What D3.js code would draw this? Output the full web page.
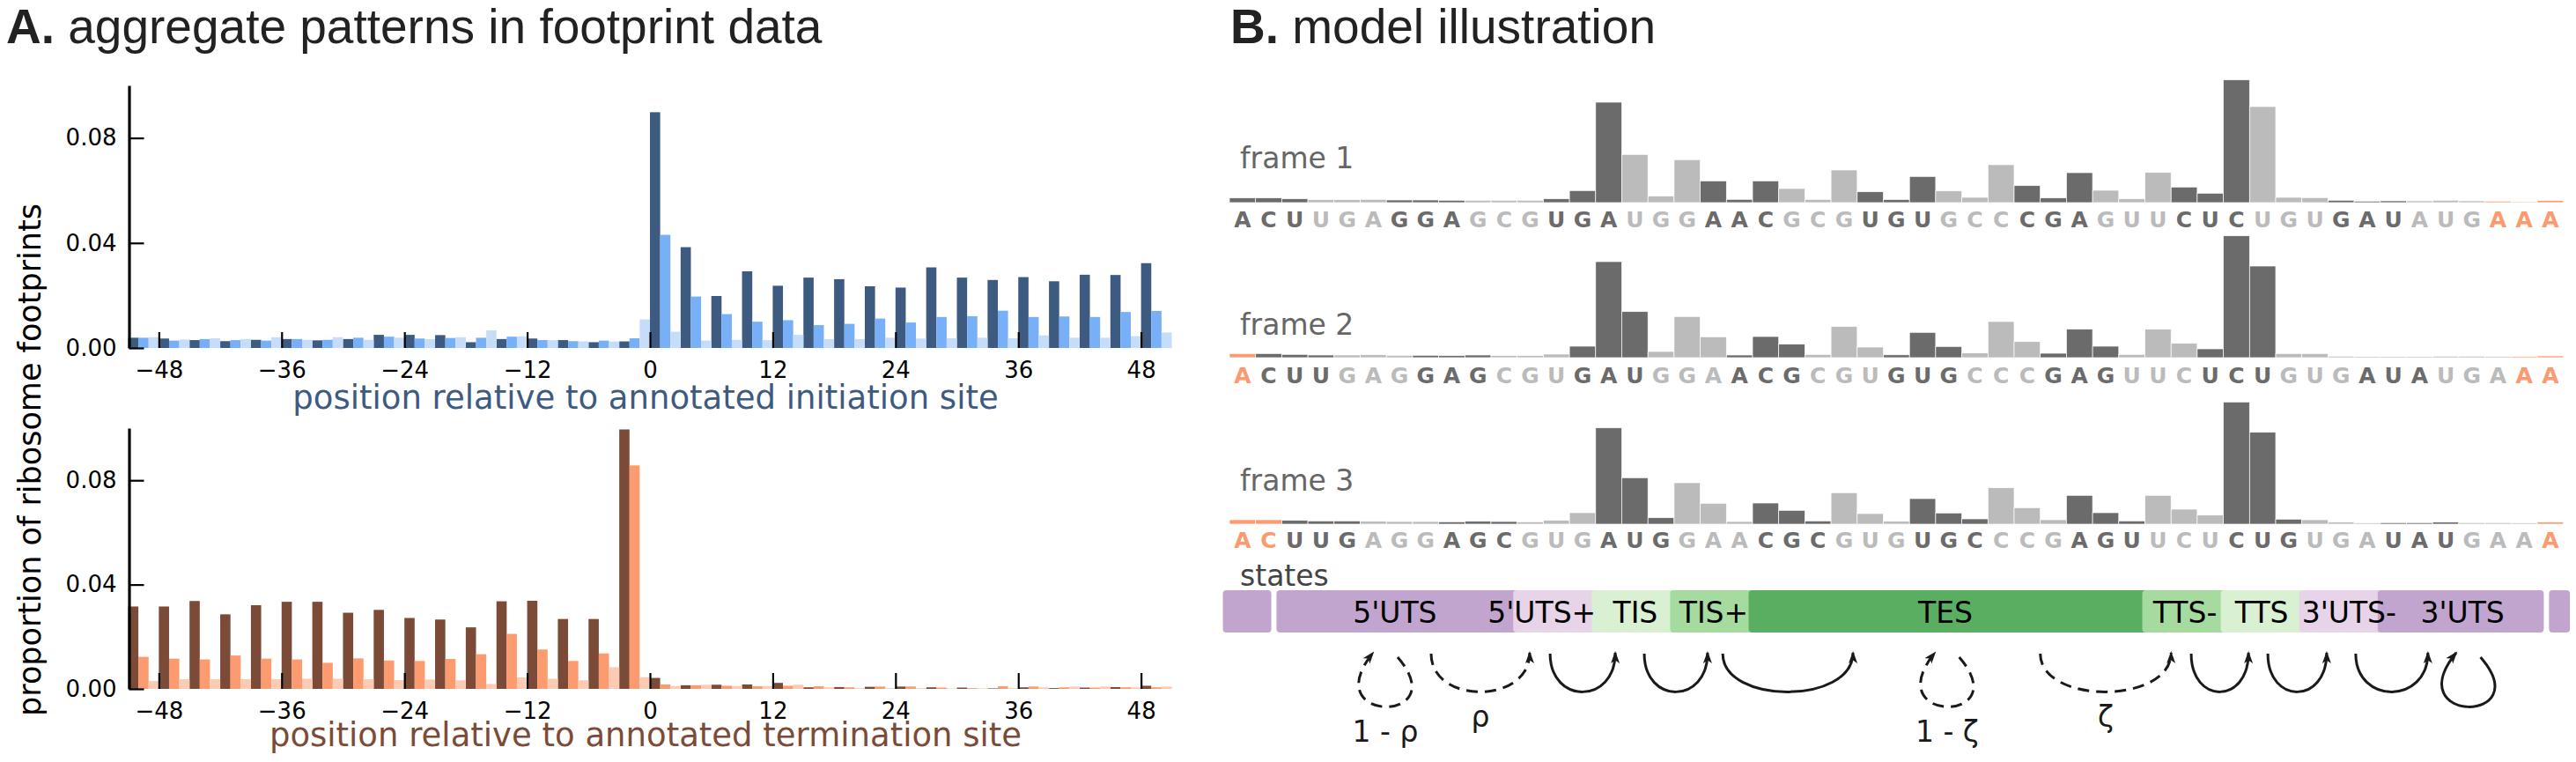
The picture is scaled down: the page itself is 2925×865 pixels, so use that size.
<!DOCTYPE html>
<html><head><meta charset="utf-8">
<script src="https://cdn.jsdelivr.net/npm/d3@7"></script>
<style>body{margin:0;background:#fff} svg{display:block}</style>
</head><body>
<svg id="chart" width="2925" height="865"></svg>
<script>
// ---------------- Panel A data ----------------
const firstPosition = -51;
const lastPosition = 51;
const tickPositions = [-48, -36, -24, -12, 0, 12, 24, 36, 48];
const yTickValues = [0, 0.04, 0.08];
// initiation site, frame 0 (positions -51,-48,...,48), frame 1 (-50..49), frame 2 (-49..50)
const initFrame0 = [0.0039,0.0036,0.0030,0.0026,0.0031,0.0034,0.0029,0.0034,0.0050,0.0050,0.0049,0.0022,0.0034,0.0036,0.0030,0.0022,0.0025,
  0.0898,0.0384,0.0198,0.0292,0.0237,0.0268,0.0262,0.0235,0.0230,0.0307,0.0268,0.0259,0.0270,0.0254,0.0279,0.0278,0.0323];
const initFrame1 = [0.0039,0.0028,0.0034,0.0030,0.0028,0.0034,0.0031,0.0039,0.0043,0.0036,0.0038,0.0039,0.0043,0.0030,0.0026,0.0028,0.0037,
  0.0431,0.0196,0.0129,0.0100,0.0106,0.0087,0.0092,0.0112,0.0097,0.0118,0.0121,0.0142,0.0118,0.0120,0.0118,0.0137,0.0141];
const initFrame2 = [0.0041,0.0032,0.0037,0.0034,0.0041,0.0031,0.0041,0.0031,0.0039,0.0034,0.0041,0.0067,0.0044,0.0030,0.0025,0.0025,0.0109,
  0.0062,0.0028,0.0031,0.0030,0.0050,0.0034,0.0034,0.0039,0.0036,0.0037,0.0039,0.0037,0.0048,0.0039,0.0039,0.0045,0.0059];
// termination site
const termFrame0 = [0.0316,0.0316,0.0337,0.0286,0.0321,0.0334,0.0334,0.0292,0.0303,0.0272,0.0266,0.0236,0.0336,0.0338,0.0268,0.0268,0.0995,
  0.0042,0.0014,0.0016,0.0017,0.0023,0.0006,0.0007,0.0008,0.0009,0.0006,0.0005,0.0002,0.0006,0.0003,0.0005,0.0007,0.0012];
const termFrame1 = [0.0123,0.0116,0.0113,0.0128,0.0116,0.0113,0.0100,0.0117,0.0109,0.0107,0.0115,0.0133,0.0211,0.0151,0.0107,0.0136,0.0857,
  0.0017,0.0014,0.0012,0.0010,0.0012,0.0010,0.0006,0.0009,0.0009,0.0005,0.0003,0.0010,0.0009,0.0006,0.0005,0.0006,0.0006];
const termFrame2 = [0.0030,0.0037,0.0037,0.0037,0.0037,0.0039,0.0039,0.0037,0.0034,0.0036,0.0033,0.0019,0.0044,0.0039,0.0033,0.0083,0.0045,
  0.0011,0.0016,0.0011,0.0011,0.0016,0.0006,0.0003,0.0003,0.0003,0.0002,0.0002,0.0003,0.0006,0.0009,0.0009,0.0006,0.0009];
const initColors = ["#3d5a80", "#78b0f8", "#c6ddf9"];
const termColors = ["#7b4b37", "#fc9b70", "#fdcbb4"];

// ---------------- Panel B data ----------------
const sequence = "ACUUGAGGAGCGUGAUGGAACGCGUGUGCCCGAGUUCUCUGUGAUAUGAAA";
const frameNames = ["frame 1", "frame 2", "frame 3"];
const frameOffsets = [0, 1, 2];
const codonsPerFrame = 16;
const frame1Reads = [5.3,5.3,4.3,3.3,3.3,3.7,3,3,2.7,2.7,2.7,2.7,4.3,13.7,114,54.7,7.3,48.7,24.7,3.7,24.7,16,3.7,37,12.3,3.5,29.7,13.3,6,43,19.3,5.3,34,14,4.3,34.3,17.7,10.7,139.3,109,6,5.7,2.7,1.7,2,2,2.7,2,1.7,1,2.3];
const frame2Reads = [4.7,4.7,3.7,3,3,3.3,2.7,2.7,2.3,3,2.3,2.3,4,13,109,52.3,7,46.7,23.7,3,24,15.3,3.7,35.3,12,3.2,28.7,12.7,5.3,41,18.3,5,32.3,13,3.7,32.3,16.3,10,138.3,104,4.7,4.7,1.7,1,1,1,1.7,1.7,1.3,1.3,2];
const frame3Reads = [5,5,4.3,3.7,3.7,3.3,3,3,2.7,3.3,3,2.7,4.3,13,109.3,52.7,7.3,47,23.7,3,24,15.7,3.7,35.7,12,3.3,29,12.7,6,41.3,18.7,5,32.7,13,3.7,32.7,17,10.3,138.7,104.3,5.7,5,2.3,1.3,1.7,1.7,2.3,1.7,1.7,1.3,2.3];
const stateNames  = ["", "5'UTS", "5'UTS+", "TIS", "TIS+", "TES", "TTS-", "TTS", "3'UTS-", "3'UTS", ""];
const stateStarts = [-0.25, 1.8, 10.85, 13.85, 16.85, 19.85, 34.9, 37.9, 40.9, 43.9, 50.45];
const stateEnds   = [1.6, 10.85, 13.85, 16.85, 19.85, 34.9, 37.9, 40.9, 43.9, 50.25, 51.25];
const stateColors = ["#c2a5cf","#c2a5cf","#e7d4e8","#d9f0d3","#a6dba0","#5aae61","#a6dba0","#d9f0d3","#e7d4e8","#c2a5cf","#c2a5cf"];
const arcFrom   = [7.71, 12.26, 15.86, 18.86, 31.0, 36.77, 39.7, 43.06];
const arcTo     = [11.48, 14.75, 18.28, 23.84, 36.0, 38.96, 41.95, 45.82];
const arcDashed = [true, false, false, false, true, false, false, false];
const arcLabels = ["ρ", "", "", "", "ζ", "", "", ""];
const loopLeft   = [5.49, 26.97, 46.9];
const loopRight  = [6.43, 27.9, 47.83];
const loopDashed = [true, true, false];
const loopLabels = ["1 - ρ", "1 - ζ", ""];

// ---------------- layout constants ----------------
const stateLabelShift = [0, 0, -12, 5, 5, 0, 4, 2, 12, 2, 0];

// ---------------- drawing ----------------
const svg = d3.select("#chart");
const DV = "'DejaVu Sans', sans-serif";
const HV = "'Liberation Sans', Arial, sans-serif";

svg.append("defs").append("marker")
  .attr("id", "ah").attr("viewBox", "0 0 14 10").attr("refX", 12).attr("refY", 5)
  .attr("markerWidth", 14).attr("markerHeight", 10).attr("markerUnits", "userSpaceOnUse")
  .attr("orient", "auto")
  .append("path").attr("d", "M0,0 L14,5 L0,10 L3.5,5 Z").attr("fill", "#1a1a1a");

// titles
function title(x, letter, rest) {
  const t = svg.append("text").attr("x", x).attr("y", 49)
    .attr("font-family", HV).attr("font-size", 55).attr("fill", "#222");
  t.append("tspan").attr("font-weight", "bold").text(letter);
  t.append("tspan").text(rest);
}
title(7, "A.", " aggregate patterns in footprint data");
title(1397, "B.", " model illustration");

// Panel A
const xA = d3.scaleLinear().domain([firstPosition, lastPosition]).range([145.5, 1330.5]);
const panelsA = [
  {frames: [initFrame0, initFrame1, initFrame2], colors: initColors, base: 395, top: 97,
   label: "position relative to annotated initiation site", labelY: 464},
  {frames: [termFrame0, termFrame1, termFrame2], colors: termColors, base: 782, top: 486,
   label: "position relative to annotated termination site", labelY: 847}
];
panelsA.forEach(P => {
  const y = d3.scaleLinear().domain([0, 0.1]).range([P.base, P.top]);
  const g = svg.append("g");
  P.frames.forEach((vals, f) => {
    const data = vals.map((v, k) => ({p: firstPosition + f + 3 * k, v}));
    g.selectAll(null).data(data).enter().append("rect")
      .attr("x", d => xA(d.p)).attr("width", d => xA(d.p + 1) - xA(d.p))
      .attr("y", d => y(d.v)).attr("height", d => y(0) - y(d.v))
      .attr("fill", P.colors[f]);
  });
  const xAxis = d3.axisBottom(xA).tickValues(tickPositions).tickSize(-18).tickPadding(16)
    .tickFormat(d3.format("d"));
  const gx = svg.append("g").attr("transform", `translate(0,${P.base})`).call(xAxis);
  gx.select(".domain").remove();
  gx.selectAll(".tick line").attr("stroke", "#000").attr("stroke-width", 2.2);
  gx.selectAll("text").attr("font-family", DV).attr("font-size", 26).attr("fill", "#000");
  const yAxis = d3.axisLeft(y).tickValues(yTickValues).tickSize(-17).tickSizeOuter(0).tickPadding(14)
    .tickFormat(d3.format(".2f"));
  const gy = svg.append("g").attr("transform", `translate(${xA(firstPosition) + 1},0)`).call(yAxis);
  gy.select(".domain").attr("stroke", "#000").attr("stroke-width", 3.2);
  gy.selectAll(".tick line").attr("stroke", "#000").attr("stroke-width", 2.2);
  gy.selectAll("text").attr("font-family", DV).attr("font-size", 26).attr("fill", "#000");
  svg.append("text").attr("x", 733).attr("y", P.labelY).attr("text-anchor", "middle")
    .attr("font-family", DV).attr("font-size", 37).attr("fill", P.colors[0]).text(P.label);
});
svg.append("text").attr("transform", "translate(46,522) rotate(-90)").attr("text-anchor", "middle")
  .attr("font-family", DV).attr("font-size", 35).attr("fill", "#000")
  .text("proportion of ribosome footprints");

// Panel B
const xB = d3.scaleLinear().domain([0, 51]).range([1396, 2910.7]);
const hB = d3.scaleLinear().domain([0, 140]).range([0, 140]);
const frameReads = [frame1Reads, frame2Reads, frame3Reads];
const barBase = [230, 406, 595];
const letterBase = [258, 435, 622];
const nameBase = [191, 380, 557];
const codonColor = {dark: "#6b6b6b", light: "#bbbbbb", utr: "#fb9a6e"};
function colClass(i, off) {
  if (i < off) return "utr";
  const k = Math.floor((i - off) / 3);
  if (k >= codonsPerFrame) return "utr";
  return k % 2 === 0 ? "dark" : "light";
}
frameReads.forEach((reads, f) => {
  const off = frameOffsets[f];
  const data = reads.map((v, i) => ({i, v, c: colClass(i, off), ch: sequence[i]}));
  const g = svg.append("g");
  g.selectAll(null).data(data).enter().append("rect")
    .attr("x", d => xB(d.i)).attr("width", d => xB(d.i + 1) - xB(d.i))
    .attr("y", d => barBase[f] - hB(d.v)).attr("height", d => hB(d.v))
    .attr("fill", d => codonColor[d.c]).attr("stroke", "#fff").attr("stroke-width", 0.7);
  g.selectAll(null).data(data).enter().append("text")
    .attr("x", d => xB(d.i + 0.5)).attr("y", letterBase[f]).attr("text-anchor", "middle")
    .attr("font-family", DV).attr("font-weight", "bold").attr("font-size", 25)
    .attr("fill", d => codonColor[d.c]).text(d => d.ch);
  svg.append("text").attr("x", 1408).attr("y", nameBase[f])
    .attr("font-family", DV).attr("font-size", 33).attr("fill", "#666").text(frameNames[f]);
});

// states
svg.append("text").attr("x", 1408).attr("y", 665).attr("font-family", DV)
  .attr("font-size", 33).attr("fill", "#444").text("states");
const states = stateNames.map((n, k) => ({n, s: stateStarts[k], e: stateEnds[k], c: stateColors[k], dx: stateLabelShift[k]}));
const gs = svg.append("g");
states.forEach((d, k) => {
  const touchesNext = k + 1 < states.length && Math.abs(states[k + 1].s - d.e) < 0.01;
  gs.append("rect").attr("x", xB(d.s)).attr("y", 670)
    .attr("width", xB(d.e) - xB(d.s) + (touchesNext ? 8 : 0)).attr("height", 48)
    .attr("rx", 4).attr("fill", d.c);
});
states.forEach(d => {
  if (!d.n) return;
  gs.append("text").attr("x", (xB(d.s) + xB(d.e)) / 2 + d.dx).attr("y", 707).attr("text-anchor", "middle")
    .attr("font-family", DV).attr("font-size", 33).attr("fill", "#000").text(d.n);
});

// transitions
const y0 = 742;
const ga = svg.append("g").attr("fill", "none").attr("stroke", "#1a1a1a").attr("stroke-width", 3);
arcFrom.forEach((a, k) => {
  const x1 = xB(a), x2 = xB(arcTo[k]);
  ga.append("path")
    .attr("d", `M${x1},${y0} C${x1},${y0 + 58} ${x2},${y0 + 58} ${x2},${y0 - 1}`)
    .attr("stroke-dasharray", arcDashed[k] ? "13,8" : null)
    .attr("marker-end", "url(#ah)");
  if (arcLabels[k]) svg.append("text").attr("x", (x1 + x2) / 2).attr("y", 825).attr("text-anchor", "middle")
    .attr("font-family", DV).attr("font-size", 33).attr("fill", "#1a1a1a").text(arcLabels[k]);
});
loopLeft.forEach((l, k) => {
  const xl = xB(l), xr = xB(loopRight[k]);
  ga.append("path")
    .attr("d", `M${xr},${y0 + 4} C${xr + 66},${y0 + 80} ${xl - 66},${y0 + 80} ${xl},${y0 - 1}`)
    .attr("stroke-dasharray", loopDashed[k] ? "13,8" : null)
    .attr("marker-end", "url(#ah)");
  if (loopLabels[k]) svg.append("text").attr("x", (xl + xr) / 2).attr("y", 842).attr("text-anchor", "middle")
    .attr("font-family", DV).attr("font-size", 33).attr("fill", "#1a1a1a").text(loopLabels[k]);
});
</script>
</body></html>
